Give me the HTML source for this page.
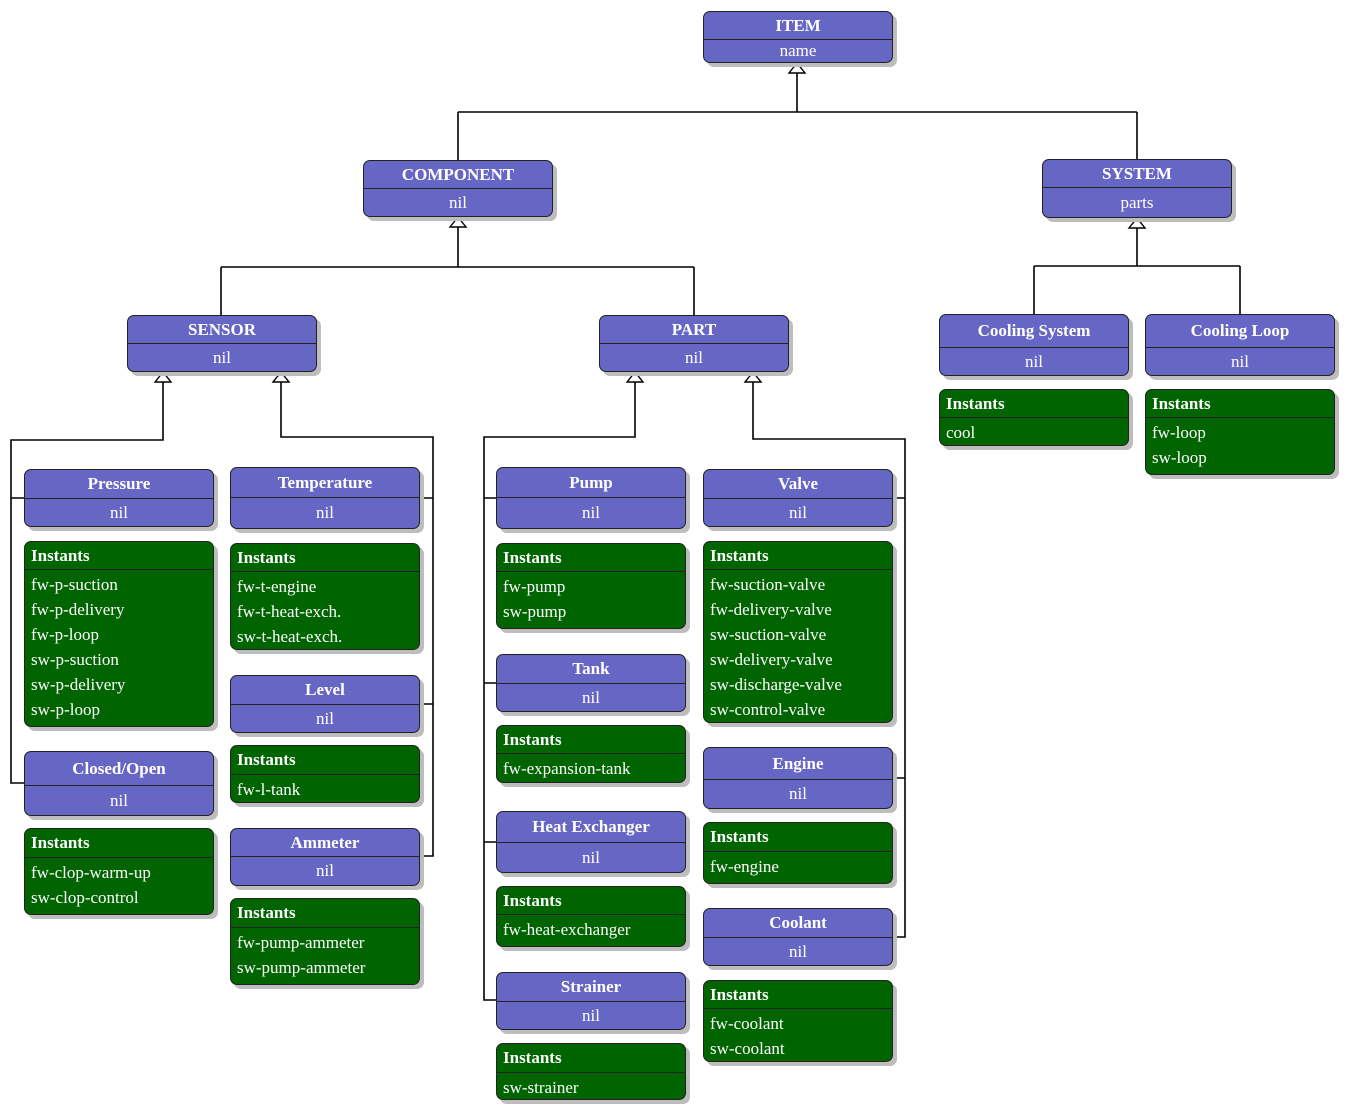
<!DOCTYPE html>
<html><head><meta charset="utf-8"><style>
body{margin:0;width:1347px;height:1112px;background:#fff;position:relative;overflow:hidden;font-family:"Liberation Serif",serif;}
.b{position:absolute;box-sizing:border-box;border:1px solid #222;border-radius:7px;box-shadow:4px 4px 0 #bdbdbd;color:#fff;font-size:17px;overflow:hidden}
.c{background:#6666c4}
.i{background:#006400}
.h{box-sizing:border-box;border-bottom:1px solid #222;font-weight:bold;display:flex;align-items:center}
.c .h{justify-content:center}
.c .s{text-align:center;display:flex;align-items:center;justify-content:center}
.i .h{padding-left:6px}
.i .l{padding:2px 0 0 6px;line-height:25px}
svg{position:absolute;left:0;top:0}
</style></head><body>
<svg width="1347" height="1112" fill="none" stroke="#000" stroke-width="1.6">
<path d="M797 72V112M458 112H1137M458 112V160M1137 112V159"/>
<path d="M458 227V267M221 267H694M221 267V315M694 267V315"/>
<path d="M1137 228V266M1034 266H1240M1034 266V314M1240 266V314"/>
<path d="M163 382V440H11V783H24M11 498H24"/>
<path d="M281 382V437H433V856H420M420 498H433M420 704H433"/>
<path d="M635 382V437H484V1000H496M484 498H496M484 683H496M484 842H496"/>
<path d="M753 382V439H905V937H893M893 498H905M893 778H905"/>
<g fill="#fff" stroke-width="1.4">
<path d="M797 63L789 73H805Z"/><path d="M458 217L450 227H466Z"/><path d="M1137 218L1129 228H1145Z"/>
<path d="M163 372L155 382H171Z"/><path d="M281 372L273 382H289Z"/><path d="M635 372L627 382H643Z"/><path d="M753 372L745 382H761Z"/>
</g>
</svg>

<div class="b c" style="left:703px;top:11px;width:190px;height:52px"><div class="h" style="height:28px">ITEM</div><div class="s" style="height:22px">name</div></div>
<div class="b c" style="left:363px;top:160px;width:190px;height:57px"><div class="h" style="height:28px">COMPONENT</div><div class="s" style="height:27px">nil</div></div>
<div class="b c" style="left:1042px;top:159px;width:190px;height:59px"><div class="h" style="height:28px">SYSTEM</div><div class="s" style="height:29px">parts</div></div>
<div class="b c" style="left:127px;top:315px;width:190px;height:57px"><div class="h" style="height:28px">SENSOR</div><div class="s" style="height:27px">nil</div></div>
<div class="b c" style="left:599px;top:315px;width:190px;height:57px"><div class="h" style="height:28px">PART</div><div class="s" style="height:27px">nil</div></div>
<div class="b c" style="left:939px;top:314px;width:190px;height:62px"><div class="h" style="height:33px">Cooling System</div><div class="s" style="height:27px">nil</div></div>
<div class="b c" style="left:1145px;top:314px;width:190px;height:62px"><div class="h" style="height:33px">Cooling Loop</div><div class="s" style="height:27px">nil</div></div>
<div class="b i" style="left:939px;top:389px;width:190px;height:57px"><div class="h" style="height:28px">Instants</div><div class="l">cool</div></div>
<div class="b i" style="left:1145px;top:389px;width:190px;height:86px"><div class="h" style="height:28px">Instants</div><div class="l">fw-loop<br>sw-loop</div></div>

<div class="b c" style="left:24px;top:469px;width:190px;height:58px"><div class="h" style="height:29px">Pressure</div><div class="s" style="height:27px">nil</div></div>
<div class="b i" style="left:24px;top:541px;width:190px;height:186px"><div class="h" style="height:28px">Instants</div><div class="l">fw-p-suction<br>fw-p-delivery<br>fw-p-loop<br>sw-p-suction<br>sw-p-delivery<br>sw-p-loop</div></div>
<div class="b c" style="left:24px;top:751px;width:190px;height:65px"><div class="h" style="height:34px">Closed/Open</div><div class="s" style="height:29px">nil</div></div>
<div class="b i" style="left:24px;top:828px;width:190px;height:87px"><div class="h" style="height:29px">Instants</div><div class="l">fw-clop-warm-up<br>sw-clop-control</div></div>

<div class="b c" style="left:230px;top:467px;width:190px;height:62px"><div class="h" style="height:30px">Temperature</div><div class="s" style="height:30px">nil</div></div>
<div class="b i" style="left:230px;top:543px;width:190px;height:107px"><div class="h" style="height:28px">Instants</div><div class="l">fw-t-engine<br>fw-t-heat-exch.<br>sw-t-heat-exch.</div></div>
<div class="b c" style="left:230px;top:675px;width:190px;height:58px"><div class="h" style="height:29px">Level</div><div class="s" style="height:27px">nil</div></div>
<div class="b i" style="left:230px;top:745px;width:190px;height:58px"><div class="h" style="height:29px">Instants</div><div class="l">fw-l-tank</div></div>
<div class="b c" style="left:230px;top:828px;width:190px;height:58px"><div class="h" style="height:28px">Ammeter</div><div class="s" style="height:28px">nil</div></div>
<div class="b i" style="left:230px;top:898px;width:190px;height:87px"><div class="h" style="height:29px">Instants</div><div class="l">fw-pump-ammeter<br>sw-pump-ammeter</div></div>

<div class="b c" style="left:496px;top:467px;width:190px;height:62px"><div class="h" style="height:30px">Pump</div><div class="s" style="height:30px">nil</div></div>
<div class="b i" style="left:496px;top:543px;width:190px;height:86px"><div class="h" style="height:28px">Instants</div><div class="l">fw-pump<br>sw-pump</div></div>
<div class="b c" style="left:496px;top:654px;width:190px;height:58px"><div class="h" style="height:29px">Tank</div><div class="s" style="height:27px">nil</div></div>
<div class="b i" style="left:496px;top:725px;width:190px;height:58px"><div class="h" style="height:28px">Instants</div><div class="l">fw-expansion-tank</div></div>
<div class="b c" style="left:496px;top:811px;width:190px;height:62px"><div class="h" style="height:31px">Heat Exchanger</div><div class="s" style="height:29px">nil</div></div>
<div class="b i" style="left:496px;top:886px;width:190px;height:61px"><div class="h" style="height:28px">Instants</div><div class="l">fw-heat-exchanger</div></div>
<div class="b c" style="left:496px;top:972px;width:190px;height:58px"><div class="h" style="height:29px">Strainer</div><div class="s" style="height:27px">nil</div></div>
<div class="b i" style="left:496px;top:1043px;width:190px;height:57px"><div class="h" style="height:29px">Instants</div><div class="l">sw-strainer</div></div>

<div class="b c" style="left:703px;top:469px;width:190px;height:58px"><div class="h" style="height:29px">Valve</div><div class="s" style="height:27px">nil</div></div>
<div class="b i" style="left:703px;top:541px;width:190px;height:182px"><div class="h" style="height:28px">Instants</div><div class="l">fw-suction-valve<br>fw-delivery-valve<br>sw-suction-valve<br>sw-delivery-valve<br>sw-discharge-valve<br>sw-control-valve</div></div>
<div class="b c" style="left:703px;top:747px;width:190px;height:62px"><div class="h" style="height:32px">Engine</div><div class="s" style="height:28px">nil</div></div>
<div class="b i" style="left:703px;top:822px;width:190px;height:62px"><div class="h" style="height:29px">Instants</div><div class="l">fw-engine</div></div>
<div class="b c" style="left:703px;top:908px;width:190px;height:58px"><div class="h" style="height:29px">Coolant</div><div class="s" style="height:27px">nil</div></div>
<div class="b i" style="left:703px;top:980px;width:190px;height:82px"><div class="h" style="height:28px">Instants</div><div class="l">fw-coolant<br>sw-coolant</div></div>
</body></html>
